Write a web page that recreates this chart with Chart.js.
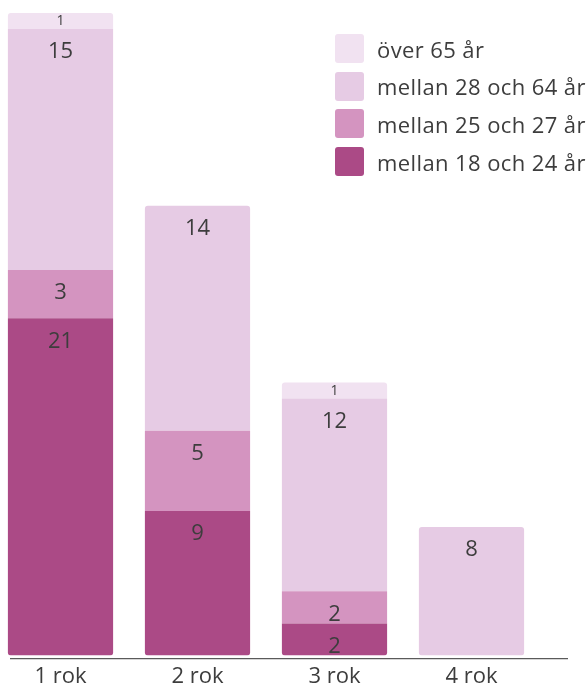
<!DOCTYPE html>
<html lang="sv">
<head>
<meta charset="utf-8">
<title>Ålder per år</title>
<script src="https://cdn.jsdelivr.net/npm/chart.js@4/dist/chart.umd.min.js"></script>
<style>
  html, body { margin: 0; padding: 0; background: #fff; }
  #wrap { position: relative; width: 587px; height: 685px; overflow: hidden; }
  /* canvas sits a little left and runs past the bottom edge so the first bar and labels land right */
  #chart { position: absolute; left: -8px; top: 0; }
  #legend {
    position: absolute; left: 335px; top: 34px; margin: 0; padding: 0; list-style: none;
    font-family: 'Open Sans', sans-serif; font-size: 22px; letter-spacing: 0.4px; color: #3d3d3d;
    white-space: nowrap;
  }
  #legend li { display: flex; align-items: center; height: 29px; margin-bottom: 8.7px; }
  #legend span.box { width: 29px; height: 29px; border-radius: 3px; margin-right: 13px; flex: none; }
</style>
</head>
<body>
<div id="wrap">
  <canvas id="chart" width="595" height="698"></canvas>
  <ul id="legend"></ul>
</div>
<script>
const kategorier = ['1 rok', '2 rok', '3 rok', '4 rok'];
const serieNamn = ['mellan 18 och 24 år', 'mellan 25 och 27 år', 'mellan 28 och 64 år', 'över 65 år'];
const mellan18och24 = [21, 9, 2, 0];
const mellan25och27 = [3, 5, 2, 0];
const mellan28och64 = [15, 14, 12, 8];
const over65 = [1, 0, 1, 0];
const farger = ['#ab4a86', '#d494c0', '#e6cbe4', '#f1e2f1'];

const serier = [mellan18och24, mellan25och27, mellan28och64, over65];

// round only the outer corners of each stack
function hornRadie(ctx) {
  const i = ctx.dataIndex, d = ctx.datasetIndex;
  const vals = serier.map(s => s[i]);
  let forsta = vals.findIndex(v => v > 0);
  let sista = -1;
  vals.forEach((v, k) => { if (v > 0) sista = k; });
  const r = 3;
  return {
    topLeft: d === sista ? r : 0, topRight: d === sista ? r : 0,
    bottomLeft: d === forsta ? r : 0, bottomRight: d === forsta ? r : 0
  };
}

const vardeEtiketter = {
  id: 'vardeEtiketter',
  afterDatasetsDraw(chart) {
    const ctx = chart.ctx;
    ctx.save();
    ctx.fillStyle = '#3d3d3d';
    ctx.textAlign = 'center';
    ctx.textBaseline = 'middle';
    chart.data.datasets.forEach((ds, di) => {
      chart.getDatasetMeta(di).data.forEach((bar, i) => {
        const v = ds.data[i];
        if (!v) return;
        if (v === 1) {
          ctx.font = "14px 'Open Sans', sans-serif";
          ctx.fillText(String(v), bar.x, (bar.y + bar.base) / 2);
        } else {
          ctx.font = "22px 'Open Sans', sans-serif";
          ctx.fillText(String(v), bar.x, bar.y + 23);
        }
      });
    });
    ctx.restore();
  }
};

// base line under the bars
const baslinje = {
  id: 'baslinje',
  afterDatasetsDraw(chart) {
    const ctx = chart.ctx;
    const y = chart.chartArea.bottom + 3;
    ctx.save();
    ctx.strokeStyle = '#5a5a5a';
    ctx.lineWidth = 1.2;
    ctx.beginPath();
    ctx.moveTo(18, y);
    ctx.lineTo(576, y);
    ctx.stroke();
    ctx.restore();
  }
};

Chart.defaults.font.family = "'Open Sans', sans-serif";

new Chart(document.getElementById('chart'), {
  type: 'bar',
  data: {
    labels: kategorier,
    datasets: serier.map((s, k) => ({
      label: serieNamn[k],
      data: s,
      backgroundColor: farger[k],
      borderWidth: 0,
      borderSkipped: false,
      borderRadius: hornRadie,
      barPercentage: 0.768,
      categoryPercentage: 1
    }))
  },
  options: {
    responsive: false,
    animation: false,
    layout: { padding: { left: 0, right: 47, top: 13, bottom: 0 } },
    scales: {
      x: {
        stacked: true,
        grid: { display: false, drawTicks: false },
        border: { display: false },
        ticks: { color: '#3d3d3d', font: { size: 22 }, padding: 8 }
      },
      y: {
        stacked: true, display: false, min: 0, max: 40
      }
    },
    plugins: { legend: { display: false }, tooltip: { enabled: false } }
  },
  plugins: [vardeEtiketter, baslinje]
});

// legend, top series first
const legend = document.getElementById('legend');
for (let k = serier.length - 1; k >= 0; k--) {
  const li = document.createElement('li');
  const box = document.createElement('span');
  box.className = 'box';
  box.style.background = farger[k];
  li.appendChild(box);
  li.appendChild(document.createTextNode(serieNamn[k]));
  legend.appendChild(li);
}
</script>
</body>
</html>
